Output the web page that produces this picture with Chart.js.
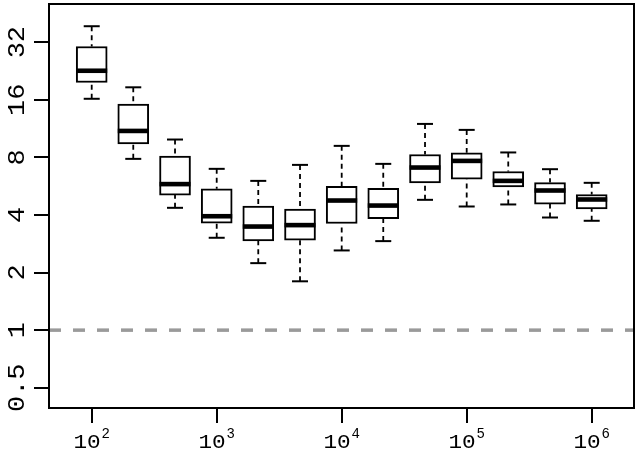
<!DOCTYPE html>
<html>
<head>
<meta charset="utf-8">
<script src="https://cdn.jsdelivr.net/npm/chart.js@4.4.1/dist/chart.umd.min.js"></script>
<style>
html, body { margin: 0; padding: 0; background: #ffffff; }
#wrap { width: 639px; height: 453px; }
</style>
</head>
<body>
<div id="wrap"><canvas id="c" width="639" height="453"></canvas></div>
<script>
// ---- data ----
const sizes = [1e2, 2.15e2, 4.64e2, 1e3, 2.15e3, 4.64e3, 1e4, 2.15e4, 4.64e4, 1e5, 2.15e5, 4.64e5, 1e6];
const whiskerHigh = [38.8, 18.6, 9.92, 6.97, 6.03, 7.31, 9.19, 7.40, 11.97, 11.14, 8.49, 6.94, 5.89];
const quart3      = [30.4, 15.2, 8.12, 5.48, 4.45, 4.30, 5.64, 5.52, 8.28, 8.45, 6.75, 5.91, 5.12];
const medians     = [22.7, 11.0, 5.80, 3.94, 3.48, 3.54, 4.76, 4.48, 7.08, 7.67, 6.03, 5.37, 4.82];
const quart1      = [19.7, 9.41, 5.08, 3.62, 2.93, 2.95, 3.61, 3.83, 5.89, 6.15, 5.61, 4.56, 4.30];
const whiskerLow  = [16.2, 7.86, 4.36, 3.04, 2.24, 1.80, 2.61, 2.92, 4.80, 4.43, 4.54, 3.88, 3.73];
const refLevel = 1;

const yTicks = [0.5, 1, 2, 4, 8, 16, 32];
const yTickLabels = ['0.5', '1', '2', '4', '8', '16', '32'];
const xTicks = [1e2, 1e3, 1e4, 1e5, 1e6];
const xTickBase = ['10', '10', '10', '10', '10'];
const xTickExp = ['2', '3', '4', '5', '6'];

const xMin = 45.53, xMax = 2.18e6;
const yMin = 0.3917, yMax = 50.7;

// ---- datasets ----
const datasets = [];
datasets.push({
  type: 'line',
  data: [{x: xMin, y: refLevel}, {x: xMax, y: refLevel}],
  borderColor: '#9a9a9a', borderWidth: 3.5, borderDash: [12, 12],
  pointRadius: 0, fill: false, order: 9
});
sizes.forEach((x, i) => {
  datasets.push({
    type: 'line',
    data: [{x: x, y: whiskerHigh[i]}, {x: x, y: quart3[i]}],
    borderColor: '#000', borderWidth: 1.8, borderDash: [5, 4],
    pointRadius: 0, fill: false, order: 8
  });
  datasets.push({
    type: 'line',
    data: [{x: x, y: whiskerLow[i]}, {x: x, y: quart1[i]}],
    borderColor: '#000', borderWidth: 1.8, borderDash: [5, 4],
    pointRadius: 0, fill: false, order: 8
  });
});
datasets.push({
  type: 'bar',
  data: sizes.map((x, i) => ({x: x, y: [quart1[i], quart3[i]]})),
  backgroundColor: '#ffffff', borderColor: '#000000', borderWidth: 2,
  borderSkipped: false, barThickness: 31, order: 5
});
datasets.push({
  type: 'line', showLine: false,
  data: sizes.map((x, i) => ({x: x, y: medians[i]})),
  pointStyle: 'line', pointRadius: 15.5, pointBorderWidth: 4.6,
  pointBorderColor: '#000', pointBackgroundColor: '#000', order: 1
});
datasets.push({
  type: 'line', showLine: false,
  data: sizes.map((x, i) => ({x: x, y: whiskerHigh[i]})).concat(sizes.map((x, i) => ({x: x, y: whiskerLow[i]}))),
  pointStyle: 'line', pointRadius: 8, pointBorderWidth: 2,
  pointBorderColor: '#000', pointBackgroundColor: '#000', order: 2
});

const frameAndLabels = {
  id: 'frameAndLabels',
  afterDraw(chart) {
    const ctx = chart.ctx;
    const a = chart.chartArea;
    ctx.save();
    ctx.strokeStyle = '#000';
    ctx.lineWidth = 2;
    ctx.strokeRect(a.left, a.top, a.right - a.left, a.bottom - a.top);

    ctx.fillStyle = '#000';
    // y labels (rotated, reading upward)
    const ys = chart.scales.y;
    ctx.font = '24px "Liberation Mono"';
    ctx.textAlign = 'center';
    ctx.textBaseline = 'alphabetic';
    yTicks.forEach((v, i) => {
      const py = ys.getPixelForValue(v);
      ctx.save();
      ctx.translate(24, py);
      ctx.rotate(-Math.PI / 2);
      ctx.scale(1.12, 1);
      ctx.fillText(yTickLabels[i], 0, 0);
      ctx.restore();
    });
    // x labels: 10 with superscript exponent
    const xs = chart.scales.x;
    ctx.textAlign = 'left';
    xTicks.forEach((v, i) => {
      const px = xs.getPixelForValue(v);
      ctx.font = '21px "Liberation Mono"';
      const w1 = ctx.measureText(xTickBase[i]).width * 1.08;
      ctx.font = '14px "Liberation Mono"';
      const w2 = ctx.measureText(xTickExp[i]).width;
      const gap = 1;
      const start = px - (w1 + gap + w2) / 2;
      ctx.save();
      ctx.translate(start, 448);
      ctx.scale(1.08, 1);
      ctx.font = '21px "Liberation Mono"';
      ctx.fillText(xTickBase[i], 0, 0);
      ctx.restore();
      ctx.font = '14px "Liberation Mono"';
      ctx.fillText(xTickExp[i], start + w1 + gap, 438);
    });
    ctx.restore();
  }
};

new Chart(document.getElementById('c'), {
  type: 'bar',
  data: { datasets: datasets },
  options: {
    responsive: false,
    devicePixelRatio: 1,
    animation: false,
    events: [],
    layout: { autoPadding: false, padding: { top: 4, right: 5, left: 0, bottom: 0 } },
    plugins: { legend: { display: false }, tooltip: { enabled: false } },
    scales: {
      x: {
        type: 'logarithmic', position: 'bottom', min: xMin, max: xMax, offset: false,
        grid: { display: true, offset: false, drawOnChartArea: false, drawTicks: true, tickLength: 15, color: '#000', lineWidth: 2 },
        border: { display: false },
        ticks: { display: false },
        afterBuildTicks: (s) => { s.ticks = xTicks.map(v => ({ value: v })); },
        afterFit: (s) => { s.height = 45; }
      },
      y: {
        type: 'logarithmic', position: 'left', min: yMin, max: yMax,
        grid: { display: true, drawOnChartArea: false, drawTicks: true, tickLength: 15, color: '#000', lineWidth: 2 },
        border: { display: false },
        ticks: { display: false },
        afterBuildTicks: (s) => { s.ticks = yTicks.map(v => ({ value: v })); },
        afterFit: (s) => { s.width = 49; }
      }
    }
  },
  plugins: [frameAndLabels]
});
</script>
</body>
</html>
